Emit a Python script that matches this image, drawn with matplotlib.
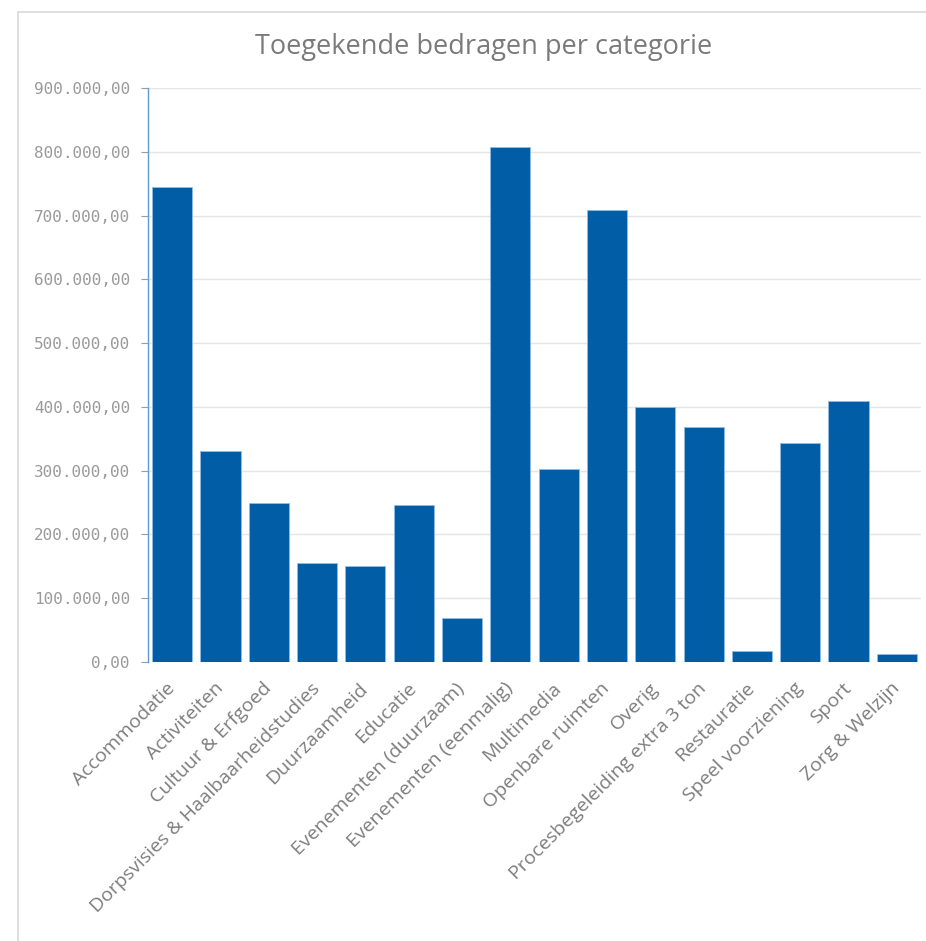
import matplotlib
matplotlib.use("Agg")
import matplotlib.pyplot as plt
from matplotlib.patches import Rectangle
from matplotlib.ticker import FuncFormatter

categories = [
    "Accommodatie", "Activiteiten", "Cultuur & Erfgoed",
    "Dorpsvisies & Haalbaarheidstudies", "Duurzaamheid", "Educatie",
    "Evenementen (duurzaam)", "Evenementen (eenmalig)", "Multimedia",
    "Openbare ruimten", "Overig", "Procesbegeleiding extra 3 ton",
    "Restauratie", "Speel voorziening", "Sport", "Zorg & Welzijn",
]
bedragen = [
    744000, 331000, 249000, 155000, 151000, 246000, 69000, 807000,
    303000, 709000, 400000, 368000, 18000, 344000, 409000, 12000,
]
y_ticks = [0, 100000, 200000, 300000, 400000, 500000, 600000, 700000, 800000, 900000]

W, H = 926, 941
fig = plt.figure(figsize=(W / 100, H / 100), dpi=100)
plt.rcParams['font.family'] = ['Open Sans', 'DejaVu Sans']

# lichte rand om de grafiek
fig.add_artist(Rectangle((18 / W, -0.05), 1.1, 1 - 12 / H + 0.05,
                         transform=fig.transFigure, fill=False,
                         edgecolor='#d9d9d9', linewidth=1.2))

ax = fig.add_axes([148 / W, 1 - 662 / H, (921 - 148) / W, (662 - 88) / H])

ax.bar(range(len(categories)), bedragen, width=0.83, color='#005da6',
       edgecolor='#8fbde6', linewidth=0.6, zorder=3)

ax.set_xlim(-0.5, len(categories) - 0.5)
ax.set_ylim(0, 900000)
ax.set_yticks(y_ticks)


def nl_fmt(v, pos):
    s = "{:,.2f}".format(v)
    return s.replace(",", "X").replace(".", ",").replace("X", ".")


ax.yaxis.set_major_formatter(FuncFormatter(nl_fmt))
ax.grid(axis='y', color='#e5e5e5', linewidth=1, zorder=0)

for side in ['top', 'right', 'bottom']:
    ax.spines[side].set_visible(False)
ax.spines['left'].set_color('#5b9bd5')
ax.spines['left'].set_linewidth(1.0)

ax.tick_params(axis='y', colors='#9a9a9a', length=5, pad=8, width=0.8)
for lbl in ax.get_yticklabels():
    lbl.set_fontfamily('DejaVu Sans Mono')
    lbl.set_fontsize(11.5)
ax.tick_params(axis='x', length=0, pad=17, labelcolor='#7d7d7d')

ax.set_xticks(range(len(categories)))
ax.set_xticklabels(categories, rotation=45, ha='right', va='center',
                   rotation_mode='anchor', fontsize=14)

fig.text(484 / W, 1 - 47 / H, "Toegekende bedragen per categorie",
         ha='center', va='center', fontsize=19.5, color='#7a7a7a')

fig.savefig("out.png", dpi=100)
